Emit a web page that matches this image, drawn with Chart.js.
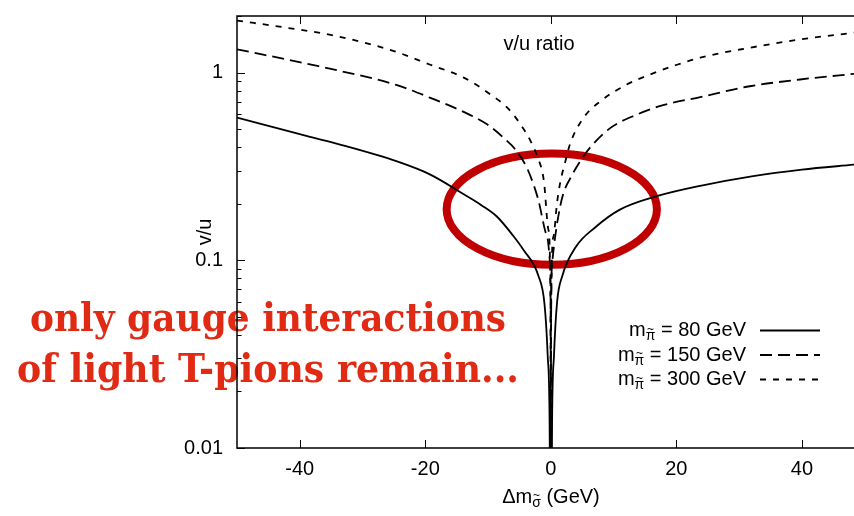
<!DOCTYPE html>
<html>
<head>
<meta charset="utf-8">
<script src="https://cdn.jsdelivr.net/npm/chart.js@4.4.1/dist/chart.umd.min.js"></script>
<style>
  html, body { margin: 0; padding: 0; background: #fff; }
  #wrap { width: 854px; height: 516px; }
</style>
</head>
<body>
<div id="wrap"><canvas id="ratioChart" width="854" height="516"></canvas></div>
<script>
// v/u as a function of the sigma-tilde mass splitting, one curve per pion mass
var pionMass = [80, 150, 300];

var dm80 = [-50, -40, -34, -24.5, -19.2, -13.8, -11, -8.6, -6, -4.4, -2, -1, -0.5, -0.2, 0,
            0.2, 0.5, 1, 1.8, 4, 7, 11, 17, 24, 32, 40, 48.3];
var vu80 = [0.575, 0.47, 0.417, 0.336, 0.286, 0.224, 0.196, 0.171, 0.135, 0.114, 0.083, 0.058, 0.031, 0.014, 0.001,
            0.014, 0.031, 0.06, 0.082, 0.118, 0.149, 0.186, 0.22, 0.25, 0.28, 0.304, 0.323];

var dm150 = [-50, -37, -24.5, -19.2, -13.8, -10.1, -7.5, -5.4, -3.8, -2.7, -2, -0.6, -0.1, -0.02, 0,
             0.02, 0.18, 0.7, 1.8, 3.4, 4.5, 6.3, 9.5, 13.7, 17.9, 23.8, 31.7, 39.7, 48.3];
var vu150 = [1.33, 1.08, 0.856, 0.733, 0.615, 0.528, 0.448, 0.38, 0.31, 0.25, 0.21, 0.134, 0.093, 0.03, 0.001,
             0.03, 0.093, 0.134, 0.215, 0.285, 0.33, 0.40, 0.507, 0.597, 0.67, 0.74, 0.845, 0.918, 0.984];

var dm300 = [-50, -42, -34, -25, -19.2, -13.8, -9.6, -6.9, -4.8, -3.2, -2.2, -1.1, -0.4, -0.05, 0,
             0.05, 0.43, 0.97, 1.5, 2.3, 3.1, 5.2, 7.9, 12.1, 15.8, 20.1, 23.8, 31.7, 39.7, 48.3];
var vu300 = [1.89, 1.73, 1.56, 1.3, 1.10, 0.937, 0.763, 0.648, 0.528, 0.43, 0.36, 0.263, 0.146, 0.06, 0.001,
             0.06, 0.134, 0.2, 0.26, 0.335, 0.42, 0.573, 0.703, 0.863, 0.976, 1.10, 1.20, 1.355, 1.50, 1.63];

var xTicks = [-40, -20, 0, 20, 40];
var yTicks = [0.01, 0.1, 1];

// highlighted region around the dip (x span, y span)
var ringX = [-16.6, 16.9];
var ringY = [0.0946, 0.37];

var SANS = '"Liberation Sans", Arial, sans-serif';
var dashes = [[], [12, 6], [6, 7]];

function pts(xs, ys) {
  return xs.map(function (x, i) { return { x: x, y: ys[i] }; });
}

// draw text pieces left to right; a run may be lowered (dy) and carry a tilde accent
function drawRuns(ctx, runs, x, y, align) {
  var w = 0;
  runs.forEach(function (r) { ctx.font = r.font; w += ctx.measureText(r.t).width; });
  var cx = align === 'right' ? x - w : align === 'center' ? x - w / 2 : x;
  ctx.textAlign = 'left';
  ctx.textBaseline = 'middle';
  runs.forEach(function (r) {
    ctx.font = r.font;
    var rw = ctx.measureText(r.t).width;
    ctx.fillText(r.t, cx, y + (r.dy || 0));
    if (r.tilde) {
      ctx.save();
      ctx.font = '12px ' + SANS;
      ctx.textAlign = 'center';
      ctx.fillText('~', cx + rw / 2, y + (r.dy || 0) - 7);
      ctx.restore();
    }
    cx += rw;
  });
}

var decorations = {
  id: 'decorations',
  beforeDraw: function (chart) {
    var ctx = chart.ctx;
    ctx.save();
    ctx.fillStyle = '#e02a14';
    ctx.textAlign = 'center';
    ctx.textBaseline = 'alphabetic';
    ctx.font = 'bold 39px "DejaVu Serif", serif';
    [['only gauge interactions', 331, 476], ['of light T-pions remain...', 382, 502]].forEach(function (l) {
      var w = ctx.measureText(l[0]).width;
      ctx.save();
      ctx.translate(268, l[1]);
      ctx.scale(l[2] / w, 1);
      ctx.fillText(l[0], 0, 0);
      ctx.restore();
    });
    ctx.restore();
  },
  beforeDatasetsDraw: function (chart) {
    var ctx = chart.ctx, xs = chart.scales.x, ys = chart.scales.y;
    var x0 = xs.getPixelForValue(ringX[0]), x1 = xs.getPixelForValue(ringX[1]);
    var y0 = ys.getPixelForValue(ringY[1]), y1 = ys.getPixelForValue(ringY[0]);
    ctx.save();
    ctx.strokeStyle = '#c00000';
    ctx.lineWidth = 8;
    ctx.beginPath();
    ctx.ellipse((x0 + x1) / 2, (y0 + y1) / 2, (x1 - x0) / 2, (y1 - y0) / 2, 0, 0, Math.PI * 2);
    ctx.stroke();
    ctx.restore();
  },
  afterDraw: function (chart) {
    var ctx = chart.ctx, a = chart.chartArea, xs = chart.scales.x, ys = chart.scales.y;
    ctx.save();
    ctx.strokeStyle = '#000';
    ctx.lineWidth = 1.5;
    // frame: left, top, bottom
    ctx.beginPath();
    ctx.moveTo(a.right + 2, a.top); ctx.lineTo(a.left, a.top); ctx.lineTo(a.left, a.bottom); ctx.lineTo(a.right + 2, a.bottom);
    ctx.stroke();
    // inward ticks
    ctx.lineWidth = 1;
    ctx.beginPath();
    xTicks.forEach(function (v) {
      var px = Math.round(xs.getPixelForValue(v)) + 0.5;
      ctx.moveTo(px, a.bottom); ctx.lineTo(px, a.bottom - 8);
      ctx.moveTo(px, a.top); ctx.lineTo(px, a.top + 8);
    });
    for (var d = 0.01; d < 2; d *= 10) {
      for (var m = 1; m <= 9; m++) {
        var v = d * m;
        if (v > ys.max) break;
        var py = Math.round(ys.getPixelForValue(v)) + 0.5;
        ctx.moveTo(a.left, py); ctx.lineTo(a.left + (m === 1 ? 8 : 4.5), py);
      }
    }
    ctx.stroke();

    ctx.fillStyle = '#000';
    var big = '20px ' + SANS, small = '14px ' + SANS;
    // titles
    drawRuns(ctx, [{ t: 'v/u ratio', font: big }], 539, 44, 'center');
    drawRuns(ctx, [{ t: '\u0394m', font: big }, { t: '\u03c3', font: small, dy: 6, tilde: true }, { t: ' (GeV)', font: big }], 551, 497, 'center');
    ctx.save();
    ctx.translate(205, 232);
    ctx.rotate(-Math.PI / 2);
    drawRuns(ctx, [{ t: 'v/u', font: big }], 0, 0, 'center');
    ctx.restore();

    // key
    chart.data.datasets.forEach(function (ds, i) {
      var y = 330.5 + i * 24.5;
      drawRuns(ctx, [{ t: 'm', font: big }, { t: '\u03c0', font: small, dy: 6, tilde: true }, { t: ' = ' + pionMass[i] + ' GeV', font: big }], 746, y, 'right');
      ctx.beginPath();
      ctx.lineWidth = ds.borderWidth;
      ctx.setLineDash(ds.borderDash);
      ctx.moveTo(760, y); ctx.lineTo(820, y);
      ctx.stroke();
      ctx.setLineDash([]);
    });
    ctx.restore();
  }
};

var series = [[dm80, vu80], [dm150, vu150], [dm300, vu300]];

var ctx = document.getElementById('ratioChart').getContext('2d');
var chart = new Chart(ctx, {
  type: 'line',
  data: {
    datasets: series.map(function (s, i) {
      return {
        label: 'm = ' + pionMass[i] + ' GeV',
        data: pts(s[0], s[1]),
        borderColor: '#000',
        borderWidth: 1.8,
        borderDash: dashes[i],
        pointRadius: 0,
        cubicInterpolationMode: 'monotone',
        fill: false
      };
    })
  },
  options: {
    responsive: false,
    animation: false,
    devicePixelRatio: 1,
    layout: { padding: { top: 16, left: 0, right: 0, bottom: 0 } },
    plugins: { legend: { display: false }, tooltip: { enabled: false } },
    scales: {
      x: {
        type: 'linear',
        min: -50,
        max: 48.3,
        grid: { display: false, drawTicks: false },
        border: { display: false },
        afterBuildTicks: function (s) { s.ticks = xTicks.map(function (v) { return { value: v }; }); },
        afterFit: function (s) { s.height = 68; s.paddingLeft = 0; s.paddingRight = 0; },
        ticks: { color: '#000', padding: 9, maxRotation: 0, font: { family: SANS, size: 20 } }
      },
      y: {
        type: 'logarithmic',
        min: 0.01,
        max: 2,
        grid: { display: false, drawTicks: false },
        border: { display: false },
        afterBuildTicks: function (s) { s.ticks = yTicks.map(function (v) { return { value: v }; }); },
        afterFit: function (s) { s.width = 237; s.paddingTop = 0; s.paddingBottom = 0; },
        ticks: {
          color: '#000',
          padding: 14,
          font: { family: SANS, size: 20 },
          callback: function (v) { return String(v); }
        }
      }
    }
  },
  plugins: [decorations]
});
</script>
</body>
</html>
